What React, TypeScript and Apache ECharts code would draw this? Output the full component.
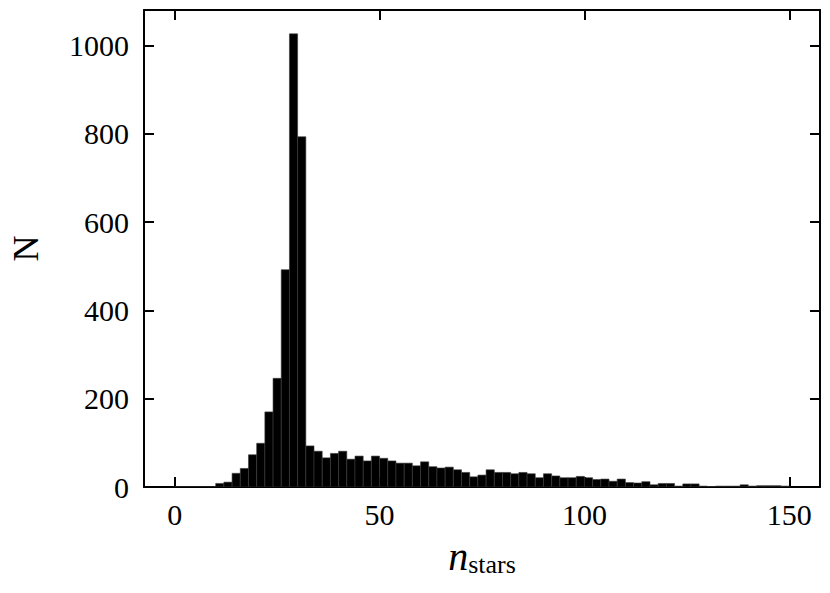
import React, { useEffect, useRef } from "react";
import * as echarts from "echarts";

// Histogram bin edges (width 2, from 0 to 150)
const binEdges: number[] = [
  0, 2, 4, 6, 8, 10, 12, 14, 16, 18, 20, 22, 24, 26, 28, 30, 32, 34, 36, 38,
  40, 42, 44, 46, 48, 50, 52, 54, 56, 58, 60, 62, 64, 66, 68, 70, 72, 74, 76, 78,
  80, 82, 84, 86, 88, 90, 92, 94, 96, 98, 100, 102, 104, 106, 108, 110, 112, 114, 116, 118,
  120, 122, 124, 126, 128, 130, 132, 134, 136, 138, 140, 142, 144, 146, 148, 150,
];

// Counts per bin
const counts: number[] = [
  0, 0, 0, 0, 0, 8, 11, 31, 42, 73,
  99, 170, 246, 492, 1026, 793, 93, 81, 66, 76,
  81, 63, 70, 59, 70, 65, 59, 54, 54, 48,
  57, 46, 43, 45, 39, 33, 23, 27, 39, 33,
  33, 30, 33, 30, 21, 30, 25, 21, 21, 24,
  21, 17, 18, 13, 18, 10, 9, 12, 5, 8,
  8, 2, 7, 7, 2, 1, 2, 2, 2, 5,
  2, 3, 3, 3, 2,
];

const xTicks: number[] = [0, 50, 100, 150];
const yTicks: number[] = [0, 200, 400, 600, 800, 1000];

const FONT = "Liberation Serif";

export default function App() {
  const ref = useRef<HTMLDivElement>(null);

  useEffect(() => {
    if (!ref.current) return;
    const chart = echarts.init(ref.current, undefined, { renderer: "svg" });
    const data = counts.map((c, i) => [binEdges[i], binEdges[i + 1], c]);

    const axisLineStyle = { color: "#000", width: 2 };
    const tickStyle = { color: "#000", width: 2 };
    const plain = (v: number) => String(v);

    chart.setOption({
      animation: false,
      backgroundColor: "#fff",
      grid: { left: 140, right: 10, top: 10, bottom: 106, containLabel: false },
      xAxis: [
        {
          type: "value",
          min: -7.5,
          max: 157.5,
          position: "bottom",
          axisLine: { show: true, onZero: false, lineStyle: axisLineStyle },
          axisTick: { show: true, inside: true, length: 10, lineStyle: tickStyle, customValues: xTicks },
          axisLabel: {
            show: true,
            customValues: xTicks,
            formatter: plain,
            fontFamily: FONT,
            fontSize: 30,
            color: "#000",
            margin: 12,
          },
          splitLine: { show: false },
          name: "{n|n}{s|stars}",
          nameLocation: "middle",
          nameGap: 48,
          nameTextStyle: {
            rich: {
              n: { fontFamily: FONT, fontStyle: "italic", fontSize: 40, color: "#000" },
              s: { fontFamily: FONT, fontSize: 26, color: "#000", padding: [16, 0, 0, 0] },
            },
          },
        },
        {
          type: "value",
          min: -7.5,
          max: 157.5,
          position: "top",
          axisLine: { show: true, onZero: false, lineStyle: axisLineStyle },
          axisTick: { show: true, inside: true, length: 10, lineStyle: tickStyle, customValues: xTicks },
          axisLabel: { show: false },
          splitLine: { show: false },
        },
      ],
      yAxis: [
        {
          type: "value",
          min: 0,
          max: 1080,
          position: "left",
          axisLine: { show: true, onZero: false, lineStyle: axisLineStyle },
          axisTick: { show: true, inside: true, length: 10, lineStyle: tickStyle, customValues: yTicks },
          axisLabel: {
            show: true,
            customValues: yTicks,
            formatter: plain,
            fontFamily: FONT,
            fontSize: 30,
            color: "#000",
            margin: 15,
          },
          splitLine: { show: false },
          name: "N",
          nameLocation: "middle",
          nameGap: 100,
          nameRotate: 90,
          nameTextStyle: { fontFamily: FONT, fontSize: 36, color: "#000" },
        },
        {
          type: "value",
          min: 0,
          max: 1080,
          position: "right",
          axisLine: { show: true, onZero: false, lineStyle: axisLineStyle },
          axisTick: { show: true, inside: true, length: 10, lineStyle: tickStyle, customValues: yTicks },
          axisLabel: { show: false },
          splitLine: { show: false },
        },
      ],
      series: [
        {
          type: "custom",
          xAxisIndex: 0,
          yAxisIndex: 0,
          clip: true,
          data,
          renderItem: (params: any, api: any) => {
            const x0 = api.value(0);
            const x1 = api.value(1);
            const y = api.value(2);
            const p0 = api.coord([x0, y]);
            const p1 = api.coord([x1, 0]);
            return {
              type: "rect",
              shape: { x: p0[0], y: p0[1], width: p1[0] - p0[0], height: p1[1] - p0[1] },
              style: { fill: "#000", stroke: "#3a3a3a", lineWidth: 0.6 },
            };
          },
        },
      ],
    });

    return () => chart.dispose();
  }, []);

  return (
    <div
      ref={ref}
      style={{ position: "fixed", left: 0, top: 0, width: 830, height: 593, background: "#fff" }}
    />
  );
}
